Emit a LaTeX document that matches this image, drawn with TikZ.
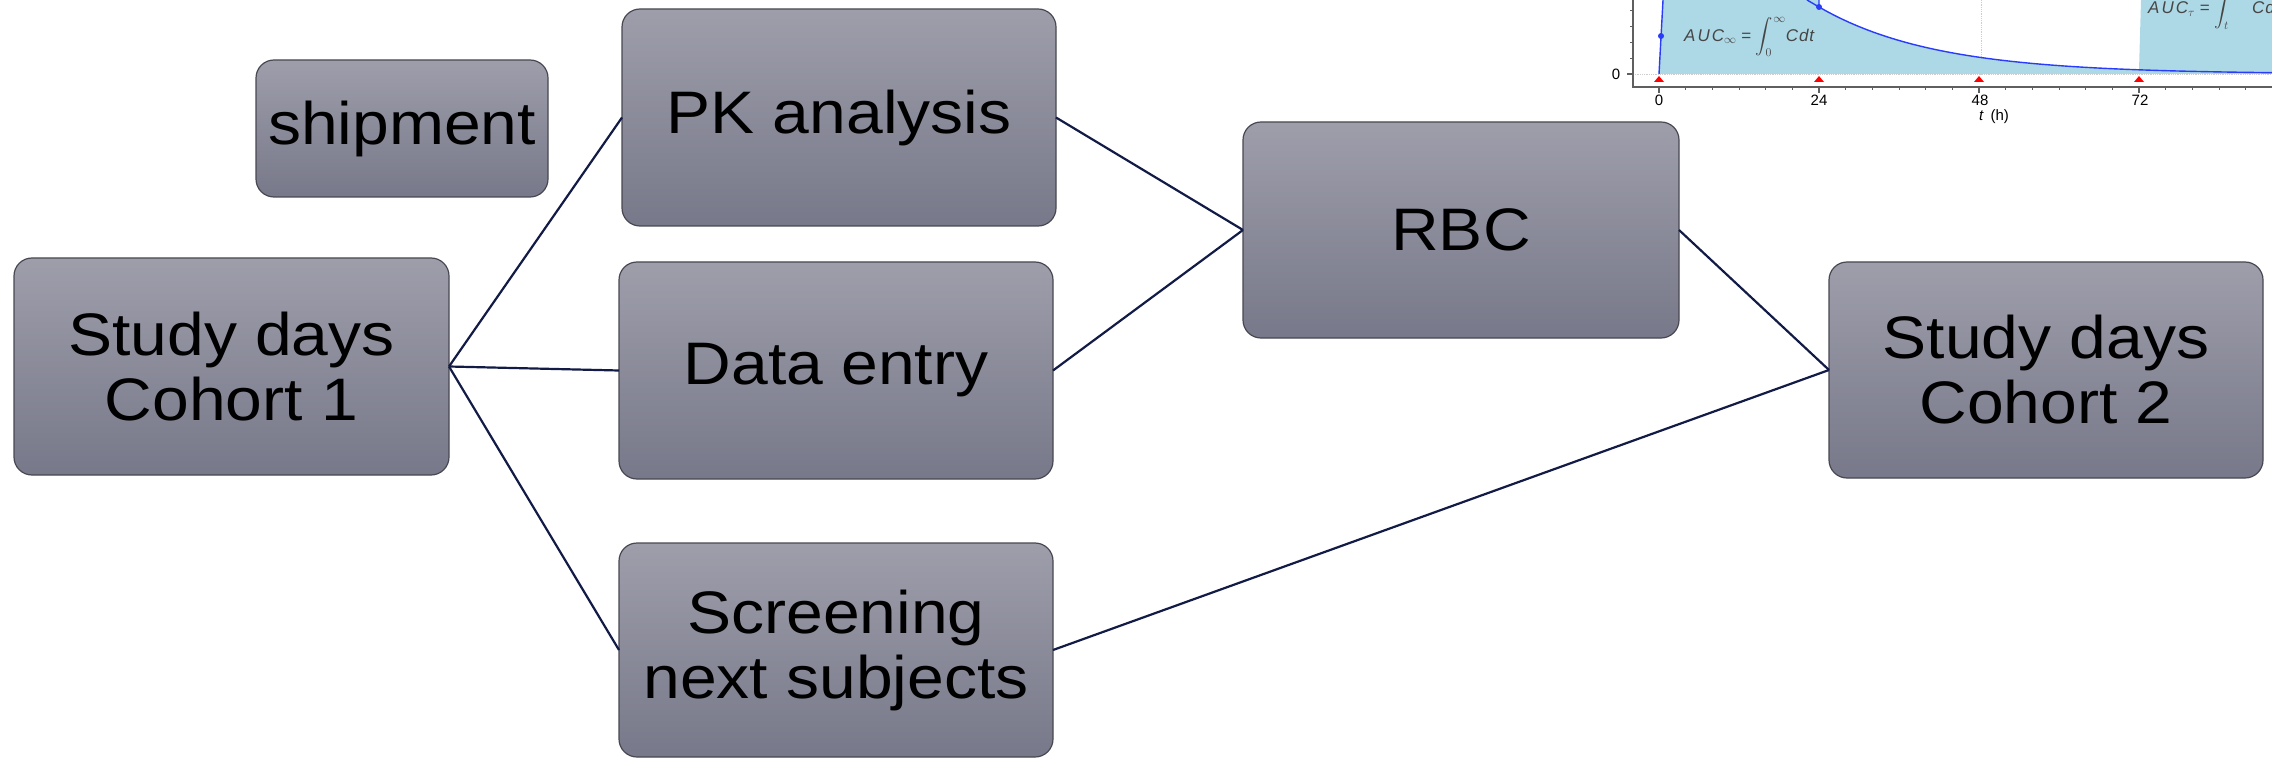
\documentclass[tikz,border=0pt]{standalone}
\usepackage{amsmath}
\usepackage{fontspec}
\setmainfont{Liberation Sans}[FakeStretch=1.1]
\newfontfamily\chartfont{Liberation Sans}
\definecolor{boxtop}{RGB}{158,158,171}
\definecolor{boxbot}{RGB}{119,120,137}
\definecolor{boxborder}{RGB}{72,72,82}
\definecolor{connavy}{RGB}{18,26,70}
\definecolor{auclight}{RGB}{173,216,230}
\definecolor{aucgray}{RGB}{70,70,70}
\definecolor{curveblue}{RGB}{40,60,250}
\definecolor{axgray}{RGB}{95,95,95}
\definecolor{gridgray}{RGB}{205,205,205}
\tikzset{
  box/.style={rounded corners=18pt, draw=boxborder, line width=1.2pt,
    top color=boxtop, bottom color=boxbot, inner sep=0pt, outer sep=0pt,
    align=center, font=\fontsize{60}{65}\selectfont, text=black},
  conn/.style={draw=connavy, line width=2.2pt},
  chartlabel/.style={font=\chartfont\fontsize{15}{15}\selectfont, text=black, inner sep=0pt},
  axisline/.style={draw=axgray, line width=1.2pt},
  curve/.style={draw=curveblue, line width=1.4pt}
}
\begin{document}
\begin{tikzpicture}[x=1pt,y=-1pt]
\useasboundingbox (0,0) rectangle (2272,759);
% ---------- cropped PK chart (top right) ----------
\begin{scope}
\clip (1590,0) rectangle (2272,125);
% grid
\draw[gridgray, line width=0.8pt, densely dotted] (1981,0) -- (1981,74);
% filled AUC areas
\fill[auclight] (1659,74) -- (1663,0) -- (1819,0) -- (1819,7)
  -- plot[domain=24:72, samples=50] ({1659+6.6667*\x},{74-67*exp(-0.05776*(\x-24))})
  -- (2141,0) -- (2272,0) -- (2272,74) -- cycle;
\draw[gridgray, line width=0.8pt, densely dotted] (1633,74) -- (2272,74);
% curve
\draw[curve] (1659,74) -- (1663,0);
\draw[curve] (1807,0) -- (1819,7) -- (1819,0);
\draw[curve] plot[domain=24:92, samples=60] ({1659+6.6667*\x},{74-67*exp(-0.05776*(\x-24))});
\fill[curveblue] (1661,36) circle (3pt);
\fill[curveblue] (1819,7) circle (3pt);
% axes
\draw[axisline] (1633,0) -- (1633,87) -- (2272,87);
\draw[axisline] (1627,74) -- (1633,74);
\foreach \yy in {58,42,26,10} \draw[axisline, line width=0.8pt] (1630,\yy) -- (1633,\yy);
\foreach \t in {0,24,48,72,96} \draw[axisline] ({1659+6.6667*\t},87) -- ({1659+6.6667*\t},93);
\foreach \t in {4,8,...,92} \draw[axisline, line width=0.8pt] ({1659+6.6667*\t},87) -- ({1659+6.6667*\t},90);
% dose markers
\foreach \t in {0,24,48,72} \fill[red] ({1659+6.6667*\t-5},82) -- ({1659+6.6667*\t+5},82) -- ({1659+6.6667*\t},76) -- cycle;
% labels
\node[chartlabel] (y0) at (1616,74) {0};
\node[chartlabel] (x0) at (1659,100) {0};
\node[chartlabel] (x24) at (1819,100) {24};
\node[chartlabel] (x48) at (1980,100) {48};
\node[chartlabel] (x72) at (2140,100) {72};
\node[chartlabel] (xt) at (1994,117) {\textit{t}\, (h)};
\node[anchor=west, inner sep=0pt, text=aucgray, font=\chartfont\fontsize{17}{17}\selectfont] (aucinf) at (1684,37)
  {\itshape A\kern2pt U\kern2pt C$_{\infty}$\upshape\ = $\displaystyle\int_0^\infty$\itshape C\kern1pt d\kern1pt t};
\node[anchor=base west, inner sep=0pt, text=aucgray, font=\chartfont\fontsize{17}{17}\selectfont] (auctau) at (2148,14)
  {\itshape A\kern2pt U\kern2pt C$_{\tau}$\upshape\ = $\displaystyle\int_t^{t+\tau}$\itshape C\kern1pt d\kern1pt t};
\end{scope}
% ---------- flow boxes ----------
\node[box, minimum width=292pt, minimum height=137pt] (ship) at (402,128.5) {shipment};
\node[box, minimum width=434pt, minimum height=217pt] (pk) at (839,117.5) {PK analysis};
\node[box, minimum width=435pt, minimum height=217pt] (c1) at (231.5,366.5) {Study days\\Cohort 1};
\node[box, minimum width=434pt, minimum height=217pt] (de) at (836,370.5) {Data entry};
\node[box, minimum width=434pt, minimum height=214pt] (scr) at (836,650) {Screening\\next subjects};
\node[box, minimum width=436pt, minimum height=216pt] (rbc) at (1461,230) {RBC};
\node[box, minimum width=434pt, minimum height=216pt] (c2) at (2046,370) {Study days\\Cohort 2};
% ---------- connectors ----------
\draw[conn] (c1.east) -- (pk.west);
\draw[conn] (c1.east) -- (de.west);
\draw[conn] (c1.east) -- (scr.west);
\draw[conn] (pk.east) -- (rbc.west);
\draw[conn] (de.east) -- (rbc.west);
\draw[conn] (rbc.east) -- (c2.west);
\draw[conn] (scr.east) -- (c2.west);
\end{tikzpicture}
\end{document}
